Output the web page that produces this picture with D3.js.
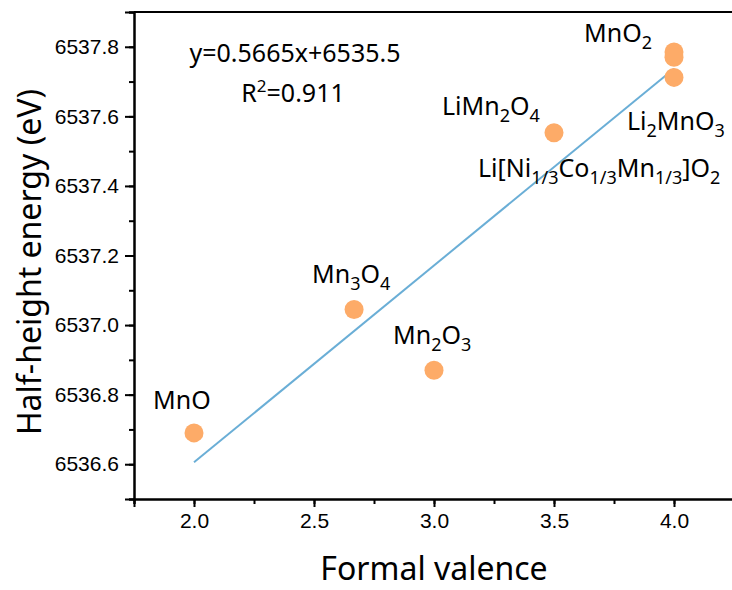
<!DOCTYPE html>
<html>
<head>
<meta charset="utf-8">
<script src="https://cdn.jsdelivr.net/npm/d3@7"></script>
<style>
  body { margin: 0; background: #fff; }
  svg { display: block; font-family: "Noto Sans", "Open Sans", sans-serif; }
  .axis path, .axis line { stroke: #000; stroke-width: 2px; }
  .axis text { font-size: 21px; fill: #000; }
  .axis-tag { font-size: 32px; fill: #000; }
  .pt-label { font-size: 25px; fill: #000; }
</style>
</head>
<body>
<div id="chart"></div>
<script>
// data
var compounds = ["MnO", "Mn3O4", "Mn2O3", "LiMn2O4", "MnO2", "MnO2b", "Li2MnO3"];
var valence = [2.0, 2.667, 3.0, 3.5, 4.0, 4.0, 4.0];
var energy = [6536.69, 6537.045, 6536.87, 6537.553, 6537.785, 6537.77, 6537.712];

// label text, [text, subscript?]
var labelParts = [
  [["MnO", 0]],
  [["Mn", 0], ["3", 1], ["O", 0], ["4", 1]],
  [["Mn", 0], ["2", 1], ["O", 0], ["3", 1]],
  [["LiMn", 0], ["2", 1], ["O", 0], ["4", 1]],
  [["MnO", 0], ["2", 1]],
  [["Li[Ni", 0], ["1/3", 1], ["Co", 0], ["1/3", 1], ["Mn", 0], ["1/3", 1], ["]O", 0], ["2", 1]],
  [["Li", 0], ["2", 1], ["MnO", 0], ["3", 1]]
];
// which point each label sits next to, and its pixel offset
var labelPoint = [0, 1, 2, 3, 4, 6, 6];
var labelOffset = [[-41, -24], [-42, -26], [-41, -26], [-112, -18], [-90, -10], [-196, 100], [-47, 53]];

var xTicks = [2.0, 2.5, 3.0, 3.5, 4.0];
var yTicks = [6536.6, 6536.8, 6537.0, 6537.2, 6537.4, 6537.6, 6537.8];
var eqText = "y=0.5665x+6535.5";
var r2Text = "0.911";

var total_width = 732, total_height = 590;
var plot = {left: 134, right: 734, top: 12, bottom: 499};

var x = d3.scaleLinear().domain([1.75, 4.25]).range([plot.left, plot.right]);
var y = d3.scaleLinear().domain([6536.5, 6537.9]).range([plot.bottom, plot.top]);

var svg = d3.select("#chart").append("svg")
  .attr("width", total_width)
  .attr("height", total_height);

// least squares fit from the points
var n = valence.length;
var mx = d3.mean(valence), my = d3.mean(energy);
var sxy = 0, sxx = 0;
for (var i = 0; i < n; i++) {
  sxy += (valence[i] - mx) * (energy[i] - my);
  sxx += (valence[i] - mx) * (valence[i] - mx);
}
var slope = sxy / sxx;
var intercept = my - slope * mx;
var fitX = d3.extent(valence);

svg.append("line")
  .attr("x1", x(fitX[0])).attr("y1", y(intercept + slope * fitX[0]))
  .attr("x2", x(fitX[1])).attr("y2", y(intercept + slope * fitX[1]))
  .attr("stroke", "#6aaed6")
  .attr("stroke-width", 2);

svg.append("g").selectAll("circle").data(valence).enter()
  .append("circle")
  .attr("cx", function(d) { return x(d); })
  .attr("cy", function(d, i) { return y(energy[i]); })
  .attr("r", 9.5)
  .attr("fill", "#fdab68");

// axes
var minorX = d3.range(1.75, 4.26, 0.25);
var minorY = d3.range(6536.5, 6537.91, 0.1);

svg.append("g")
  .attr("class", "axis")
  .attr("transform", "translate(0," + plot.bottom + ")")
  .call(d3.axisBottom(x).tickValues(minorX).tickSize(5).tickFormat(""));
svg.append("g")
  .attr("class", "axis")
  .attr("transform", "translate(0," + plot.bottom + ")")
  .call(d3.axisBottom(x).tickValues(xTicks).tickSize(8).tickPadding(6).tickFormat(d3.format(".1f")));

svg.append("g")
  .attr("class", "axis")
  .attr("transform", "translate(" + plot.left + ",0)")
  .call(d3.axisLeft(y).tickValues(minorY).tickSize(5).tickFormat(""));
svg.append("g")
  .attr("class", "axis")
  .attr("transform", "translate(" + plot.left + ",0)")
  .call(d3.axisLeft(y).tickValues(yTicks).tickSize(9).tickPadding(6).tickFormat(d3.format(".1f")));

// top frame line
svg.append("line")
  .attr("x1", plot.left).attr("x2", plot.right)
  .attr("y1", plot.top).attr("y2", plot.top)
  .attr("stroke", "#000").attr("stroke-width", 2);

// point labels
labelParts.forEach(function(parts, k) {
  var p = labelPoint[k];
  var t = svg.append("text")
    .attr("class", "pt-label")
    .attr("x", x(valence[p]) + labelOffset[k][0])
    .attr("y", y(energy[p]) + labelOffset[k][1]);
  var shifted = false;
  parts.forEach(function(part) {
    var ts = t.append("tspan").text(part[0]);
    if (part[1]) {
      ts.attr("font-size", "18px").attr("dy", shifted ? 0 : 7);
      shifted = true;
    } else {
      if (shifted) ts.attr("dy", -7);
      shifted = false;
    }
  });
});

// fit equation
svg.append("text")
  .attr("class", "pt-label")
  .attr("x", 295).attr("y", 62)
  .attr("text-anchor", "middle")
  .text(eqText);
var r2 = svg.append("text")
  .attr("class", "pt-label")
  .attr("x", 293).attr("y", 102)
  .attr("text-anchor", "middle");
r2.append("tspan").text("R");
r2.append("tspan").attr("font-size", "17px").attr("dy", -10).text("2");
r2.append("tspan").attr("dy", 10).text("=" + r2Text);

// axis titles
svg.append("text")
  .attr("class", "axis-tag")
  .attr("x", (plot.left + plot.right) / 2)
  .attr("y", 580)
  .attr("text-anchor", "middle")
  .text("Formal valence");

svg.append("text")
  .attr("class", "axis-tag")
  .attr("transform", "translate(41," + 262 + ") rotate(-90)")
  .attr("text-anchor", "middle")
  .text("Half-height energy (eV)");
</script>
</body>
</html>
